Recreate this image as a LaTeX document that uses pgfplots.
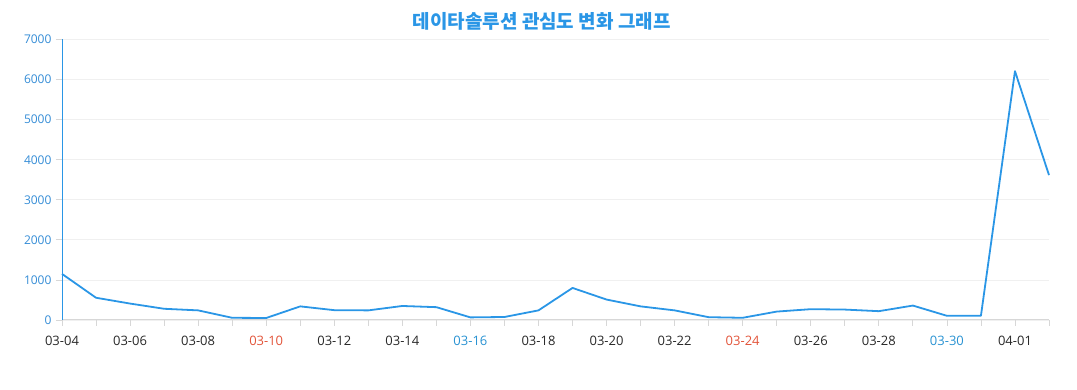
\documentclass[border=0pt]{standalone}
\usepackage{fontspec}
\setmainfont{Open Sans}
\newfontfamily\cjk{Noto Sans CJK KR}
\usepackage{pgfplots}
\pgfplotsset{compat=1.18}
\definecolor{linec}{RGB}{42,150,230}
\definecolor{ylab}{RGB}{52,140,214}
\definecolor{wkred}{RGB}{226,84,58}
\definecolor{wkblue}{RGB}{40,146,210}
\definecolor{xlab}{RGB}{40,40,40}
\definecolor{axgray}{RGB}{215,215,215}
\begin{document}
\begin{tikzpicture}[x=1pt,y=1pt]
\path[use as bounding box] (0,0) rectangle (1077,390);
\begin{axis}[
  at={(62pt,70pt)}, anchor=south west,
  scale only axis, width=987pt, height=280.5pt,
  xmin=0, xmax=29, ymin=0, ymax=7000,
  axis x line=bottom, axis y line=left,
  axis line style={-},
  x axis line style={axgray, line width=1pt},
  y axis line style={linec, line width=1pt},
  xtick={0,...,29},
  xticklabels={03-04,,03-06,,03-08,,\textcolor{wkred}{03-10},,03-12,,03-14,,\textcolor{wkblue}{03-16},,03-18,,03-20,,03-22,,\textcolor{wkred}{03-24},,03-26,,03-28,,\textcolor{wkblue}{03-30},,04-01,},
  ytick={0,1000,...,7000},
  tick align=outside,
  major tick length=6pt,
  x tick style={axgray, line width=0.8pt},
  y tick style={axgray, line width=0.8pt},
  xticklabel style={font=\fontsize{13}{15}\selectfont, text=xlab, yshift=-7pt},
  yticklabel style={font=\fontsize{12}{14}\selectfont, text=ylab, xshift=-1pt},
  /pgf/number format/assume math mode=true,
  scaled y ticks=false,
  yticklabel={\pgfmathprintnumber[fixed,1000 sep={}]{\tick}},
  ymajorgrids,
  major grid style={gray!12, line width=0.8pt},
  title={\cjk\bfseries 데이타솔루션 관심도 변화 그래프},
  title style={at={(0.486,1)}, anchor=center, yshift=12pt, text=linec, font=\fontsize{19}{22}\selectfont},
  clip=false,
]
\addplot[linec, line width=1.8pt, line join=round] coordinates {
(0,1150) (1,555) (2,410) (3,280) (4,240) (5,55) (6,50) (7,340) (8,245) (9,240)
(10,350) (11,320) (12,65) (13,75) (14,240) (15,800) (16,510) (17,340) (18,240) (19,70)
(20,55) (21,210) (22,270) (23,260) (24,220) (25,360) (26,105) (27,105) (28,6210) (29,3615)
};
\end{axis}
\end{tikzpicture}
\end{document}
